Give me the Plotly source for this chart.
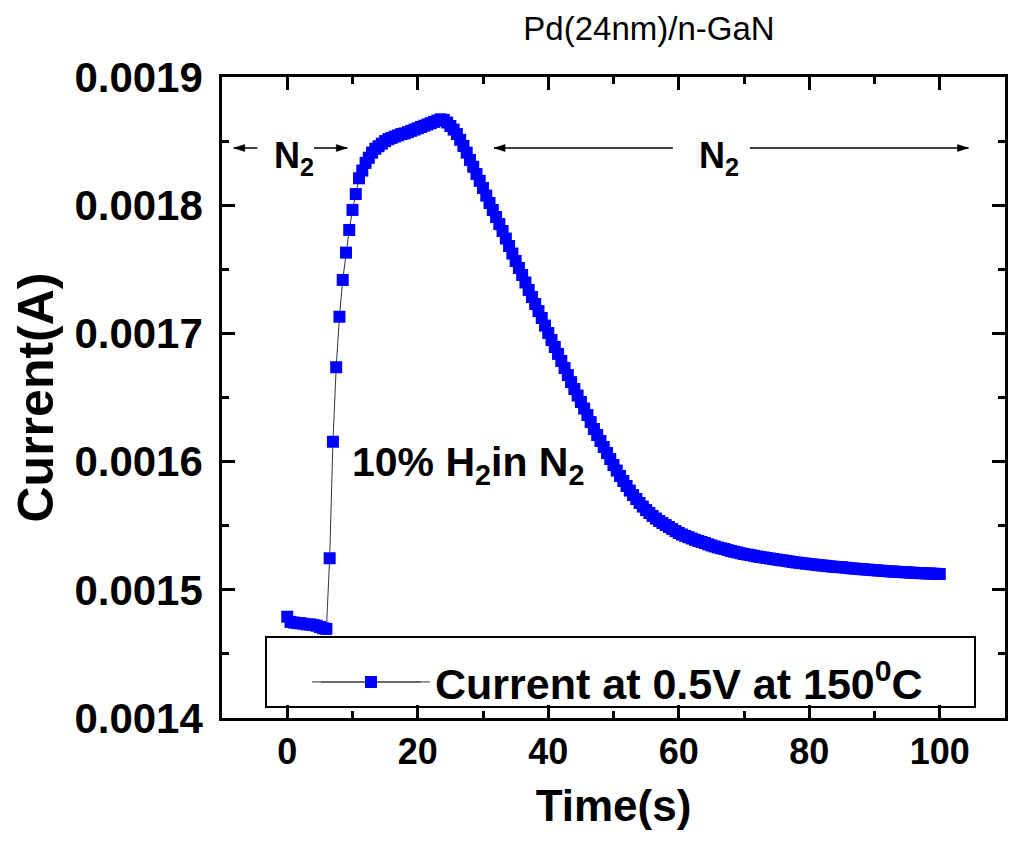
import plotly.graph_objects as go

# ---- data ----
time_s = [
    0.0, 0.5, 1.0, 1.5, 2.0, 2.5, 3.0, 3.5, 4.0, 4.5, 5.0, 5.5, 6.0, 6.5, 7.0, 7.5, 8.0, 8.5, 9.0, 9.5,
    10.0, 10.5, 11.0, 11.5, 12.0, 12.5, 13.0, 13.5, 14.0, 14.5, 15.0, 15.5, 16.0, 16.5, 17.0, 17.5, 18.0, 18.5, 19.0, 19.5,
    20.0, 20.5, 21.0, 21.5, 22.0, 22.5, 23.0, 23.5, 24.0, 24.5, 25.0, 25.5, 26.0, 26.5, 27.0, 27.5, 28.0, 28.5, 29.0, 29.5,
    30.0, 30.5, 31.0, 31.5, 32.0, 32.5, 33.0, 33.5, 34.0, 34.5, 35.0, 35.5, 36.0, 36.5, 37.0, 37.5, 38.0, 38.5, 39.0, 39.5,
    40.0, 40.5, 41.0, 41.5, 42.0, 42.5, 43.0, 43.5, 44.0, 44.5, 45.0, 45.5, 46.0, 46.5, 47.0, 47.5, 48.0, 48.5, 49.0, 49.5,
    50.0, 50.5, 51.0, 51.5, 52.0, 52.5, 53.0, 53.5, 54.0, 54.5, 55.0, 55.5, 56.0, 56.5, 57.0, 57.5, 58.0, 58.5, 59.0, 59.5,
    60.0, 60.5, 61.0, 61.5, 62.0, 62.5, 63.0, 63.5, 64.0, 64.5, 65.0, 65.5, 66.0, 66.5, 67.0, 67.5, 68.0, 68.5, 69.0, 69.5,
    70.0, 70.5, 71.0, 71.5, 72.0, 72.5, 73.0, 73.5, 74.0, 74.5, 75.0, 75.5, 76.0, 76.5, 77.0, 77.5, 78.0, 78.5, 79.0, 79.5,
    80.0, 80.5, 81.0, 81.5, 82.0, 82.5, 83.0, 83.5, 84.0, 84.5, 85.0, 85.5, 86.0, 86.5, 87.0, 87.5, 88.0, 88.5, 89.0, 89.5,
    90.0, 90.5, 91.0, 91.5, 92.0, 92.5, 93.0, 93.5, 94.0, 94.5, 95.0, 95.5, 96.0, 96.5, 97.0, 97.5, 98.0, 98.5, 99.0, 99.5,
    100.0,
]

current_A = [
    0.0014790, 0.0014750, 0.0014745, 0.0014740, 0.0014740, 0.0014735, 0.0014730, 0.0014730, 0.0014725, 0.0014720,
    0.0014710, 0.0014700, 0.0014695, 0.0015246, 0.0016155, 0.0016736, 0.0017130, 0.0017417, 0.0017630, 0.0017807,
    0.0017963, 0.0018087, 0.0018210, 0.0018270, 0.0018330, 0.0018370, 0.0018410, 0.0018440, 0.0018460, 0.0018480,
    0.0018500, 0.0018515, 0.0018525, 0.0018535, 0.0018545, 0.0018555, 0.0018560, 0.0018570, 0.0018580, 0.0018590,
    0.0018600, 0.0018610, 0.0018620, 0.0018630, 0.0018640, 0.0018650, 0.0018660, 0.0018670, 0.0018665, 0.0018645,
    0.0018618, 0.0018590, 0.0018555, 0.0018510, 0.0018462, 0.0018410, 0.0018353, 0.0018300, 0.0018243, 0.0018190,
    0.0018134, 0.0018075, 0.0018017, 0.0017962, 0.0017908, 0.0017853, 0.0017799, 0.0017740, 0.0017682, 0.0017623,
    0.0017565, 0.0017510, 0.0017456, 0.0017397, 0.0017339, 0.0017284, 0.0017229, 0.0017174, 0.0017120, 0.0017061,
    0.0017003, 0.0016948, 0.0016894, 0.0016840, 0.0016785, 0.0016730, 0.0016675, 0.0016620, 0.0016566, 0.0016515,
    0.0016465, 0.0016414, 0.0016363, 0.0016308, 0.0016254, 0.0016207, 0.0016161, 0.0016114, 0.0016067, 0.0016020,
    0.0015973, 0.0015930, 0.0015888, 0.0015849, 0.0015810, 0.0015774, 0.0015739, 0.0015708, 0.0015677, 0.0015649,
    0.0015622, 0.0015599, 0.0015576, 0.0015556, 0.0015537, 0.0015521, 0.0015505, 0.0015490, 0.0015474, 0.0015458,
    0.0015443, 0.0015431, 0.0015420, 0.0015410, 0.0015400, 0.0015390, 0.0015381, 0.0015373, 0.0015365, 0.0015355,
    0.0015346, 0.0015338, 0.0015330, 0.0015324, 0.0015318, 0.0015310, 0.0015303, 0.0015297, 0.0015291, 0.0015285,
    0.0015279, 0.0015275, 0.0015271, 0.0015265, 0.0015260, 0.0015256, 0.0015252, 0.0015248, 0.0015244, 0.0015240,
    0.0015236, 0.0015232, 0.0015229, 0.0015225, 0.0015221, 0.0015217, 0.0015213, 0.0015210, 0.0015207, 0.0015204,
    0.0015201, 0.0015198, 0.0015195, 0.0015192, 0.0015190, 0.0015187, 0.0015184, 0.0015181, 0.0015179, 0.0015177,
    0.0015176, 0.0015173, 0.0015170, 0.0015167, 0.0015165, 0.0015163, 0.0015161, 0.0015159, 0.0015157, 0.0015155,
    0.0015153, 0.0015151, 0.0015149, 0.0015147, 0.0015145, 0.0015143, 0.0015142, 0.0015140, 0.0015139, 0.0015137,
    0.0015136, 0.0015134, 0.0015133, 0.0015131, 0.0015130, 0.0015129, 0.0015128, 0.0015127, 0.0015126, 0.0015124,
    0.0015123,
]

series_name = "Current at 0.5V at 150<sup>0</sup>C"
chart_title = "Pd(24nm)/n-GaN"
x_title = "Time(s)"
y_title = "Current(A)"
x_ticks = [0, 20, 40, 60, 80, 100]
y_ticks = [0.0014, 0.0015, 0.0016, 0.0017, 0.0018, 0.0019]

# gas-phase arrows: (head, tail) in seconds, drawn at one current level
arrow_level = 0.0018446
arrow_pairs = [(-8.2, -4.6), (9.2, 4.1), (31.7, 59.1), (104.4, 70.9)]

FONT = "Liberation Sans, Arial, sans-serif"

# page has an 8px body margin; figure is sized to fit inside it
W, H = 1008, 831
L, T, PW, PH = 214, 69, 783, 641

fig = go.Figure()
fig.add_trace(go.Scatter(
    x=time_s, y=current_A, mode="lines+markers", name=series_name,
    line=dict(color="#333333", width=1),
    marker=dict(symbol="square", size=12, color="#0000ff", line=dict(width=0)),
))

axis_common = dict(
    showline=True, linecolor="black", linewidth=2.5, mirror="allticks",
    ticks="inside", ticklen=13, tickwidth=2.5, tickcolor="black",
    showgrid=False, zeroline=False, automargin=False,
)

fig.update_xaxes(
    range=[-10, 110], tickvals=x_ticks,
    minor=dict(dtick=10, tick0=0, ticks="inside", ticklen=7, tickwidth=2.5, tickcolor="black"),
    tickfont=dict(family=FONT, size=36, color="black", weight="bold"),
    title=dict(text=x_title, font=dict(family=FONT, size=44, color="black", weight="bold"), standoff=20),
    **axis_common,
)
fig.update_yaxes(
    range=[0.0014, 0.0019], tickvals=y_ticks, tickformat=".4f",
    minor=dict(dtick=0.00005, tick0=0.0014, ticks="inside", ticklen=7, tickwidth=2.5, tickcolor="black"),
    tickfont=dict(family=FONT, size=42, color="black", weight="bold"),
    ticklabelstandoff=8,
    title=dict(text=y_title, font=dict(family=FONT, size=50, color="black", weight="bold"), standoff=10),
    **axis_common,
)

# legend frame and long legend line (page px -> paper)
def px_x(p):
    return (p - 222) / PW

def px_y(p):
    return (718 - p) / PH

fig.add_shape(type="rect", xref="paper", yref="paper", x0=px_x(266), x1=px_x(975), y0=px_y(707), y1=px_y(637),
              line=dict(color="black", width=2), fillcolor="rgba(0,0,0,0)", layer="above")
fig.add_shape(type="line", xref="paper", yref="paper", x0=px_x(321), x1=px_x(421),
              y0=px_y(682), y1=px_y(682), line=dict(color="#444444", width=1), layer="above")

# arrows: shaft + small triangular head
for head, tail in arrow_pairs:
    fig.add_shape(type="line", xref="x", yref="y", x0=tail, x1=head, y0=arrow_level, y1=arrow_level,
                  line=dict(color="black", width=1.5))
    d = 1 if tail > head else -1
    fig.add_shape(type="path", xref="x", yref="y", xsizemode="pixel", ysizemode="pixel",
                  xanchor=head, yanchor=arrow_level,
                  path=f"M0,0 L{11 * d},3.5 L{11 * d},-3.5 Z",
                  fillcolor="black", line=dict(color="black", width=0.5))

ann_font = dict(family=FONT, size=36, color="black", weight="bold")
fig.add_annotation(x=1.1, y=0.0018370, xref="x", yref="y", text="N<sub>2</sub>", showarrow=False, font=ann_font)
fig.add_annotation(x=66.2, y=0.0018370, xref="x", yref="y", text="N<sub>2</sub>", showarrow=False, font=ann_font)
fig.add_annotation(x=27.7, y=0.0015970, xref="x", yref="y", text="10% H<sub>2</sub>in N<sub>2</sub>",
                   showarrow=False, font=dict(family=FONT, size=41, color="black", weight="bold"))

fig.update_layout(
    width=W, height=H,
    margin=dict(l=L, r=W - L - PW, t=T, b=H - T - PH),
    paper_bgcolor="white", plot_bgcolor="white",
    title=dict(text=chart_title, x=641 / W, xanchor="center", y=1 - 20 / H, yanchor="middle",
               font=dict(family=FONT, size=33, color="black")),
    showlegend=True,
    legend=dict(x=px_x(307), xanchor="left", y=px_y(682), yanchor="middle",
                bgcolor="rgba(0,0,0,0)", borderwidth=0, itemwidth=118,
                font=dict(family=FONT, size=43, color="black", weight="bold")),
)

fig.write_html("out.html")
